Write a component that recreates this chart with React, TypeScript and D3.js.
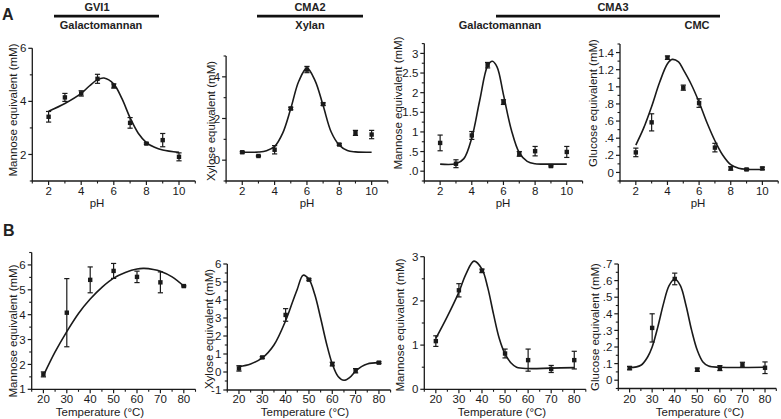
import React from "react";
import * as d3 from "d3";

// ---------- data ----------
const phX = [2, 3, 4, 5, 6, 7, 8, 9, 10];
const tempX = [20, 30, 40, 50, 60, 70, 80];

const phTicks = [2, 4, 6, 8, 10];
const phMinor = [1, 3, 5, 7, 9, 11];
const tempTicks = [20, 30, 40, 50, 60, 70, 80];
const tempMinor = [15, 25, 35, 45, 55, 65, 75, 85];

// A1 GVI1 galactomannan vs pH
const gvi1PhY = [3.42, 4.15, 4.3, 4.85, 4.58, 3.19, 2.41, 2.54, 1.91];
const gvi1PhErr = [0.2, 0.15, 0.1, 0.17, 0.08, 0.2, 0.03, 0.25, 0.15];
const gvi1PhFitX = [2, 3, 4, 4.5, 5, 5.4, 6, 6.5, 7, 7.5, 8, 8.5, 9, 10];
const gvi1PhFitY = [3.63, 3.92, 4.3, 4.58, 4.82, 4.88, 4.65, 4.1, 3.38, 2.8, 2.45, 2.27, 2.17, 2.08];
const gvi1PhYTicks = [2, 4, 6];
const gvi1PhYLabels = ["2", "4", "6"];
const gvi1PhYMinor = [1, 3, 5];

// A2 CMA2 xylan vs pH
const cma2PhY = [0.38, 0.2, 0.5, 2.48, 4.35, 2.69, 0.75, 1.31, 1.23];
const cma2PhErr = [0.04, 0.03, 0.2, 0.06, 0.15, 0.06, 0.04, 0.12, 0.2];
const cma2PhFitX = [2, 3, 3.5, 4, 4.5, 5, 5.5, 6, 6.5, 7, 7.5, 8, 8.5, 9, 10];
const cma2PhFitY = [0.38, 0.39, 0.45, 0.66, 1.3, 2.48, 3.8, 4.42, 3.82, 2.62, 1.35, 0.72, 0.46, 0.4, 0.38];
const cma2PhYTicks = [0, 2, 4];
const cma2PhYLabels = ["0", "2", "4"];
const cma2PhYMinor = [-1, 1, 3, 5];

// A3 CMA3 galactomannan vs pH
const cma3GalPhY = [0.72, 0.19, 0.91, 2.7, 1.76, 0.44, 0.51, 0.13, 0.49];
const cma3GalPhErr = [0.2, 0.1, 0.1, 0.07, 0.06, 0.06, 0.12, 0.02, 0.14];
const cma3GalPhFitX = [2, 3, 3.5, 4, 4.5, 5, 5.3, 5.6, 6, 6.5, 7, 7.5, 8, 9, 10];
const cma3GalPhFitY = [0.18, 0.19, 0.32, 0.85, 1.8, 2.68, 2.8, 2.65, 1.95, 1.05, 0.47, 0.25, 0.19, 0.18, 0.18];
const cma3GalPhYTicks = [0, 0.5, 1, 1.5, 2, 2.5, 3];
const cma3GalPhYLabels = [".0", ".5", "1", "1.5", "2", "2.5", "3"];
const cma3GalPhYMinor = [-0.25, 0.25, 0.75, 1.25, 1.75, 2.25, 2.75, 3.25];

// A4 CMA3 CMC vs pH
const cma3CmcPhY = [0.234, 0.585, 1.34, 0.99, 0.81, 0.29, 0.047, 0.035, 0.047];
const cma3CmcPhErr = [0.05, 0.1, 0.02, 0.03, 0.05, 0.05, 0.02, 0.01, 0.015];
const cma3CmcPhFitX = [2, 2.5, 3, 3.5, 4, 4.3, 4.7, 5, 5.5, 6, 6.5, 7, 7.5, 8, 8.5, 9, 10];
const cma3CmcPhFitY = [0.32, 0.52, 0.77, 1.05, 1.27, 1.32, 1.29, 1.2, 1.03, 0.82, 0.58, 0.37, 0.2, 0.09, 0.05, 0.037, 0.035];
const cma3CmcPhYTicks = [0, 0.2, 0.4, 0.6, 0.8, 1, 1.2, 1.4];
const cma3CmcPhYLabels = ["0", ".2", ".4", ".6", ".8", "1", "1.2", "1.4"];
const cma3CmcPhYMinor = [-0.1, 0.1, 0.3, 0.5, 0.7, 0.9, 1.1, 1.3, 1.5];

// B1 GVI1 galactomannan vs temperature
const gvi1TY = [1.6, 4.08, 5.4, 5.76, 5.52, 5.3, 5.15];
const gvi1TErr = [0.1, 1.37, 0.52, 0.3, 0.23, 0.42, 0.03];
const gvi1TFitX = [20, 25, 30, 35, 40, 45, 50, 55, 60, 63, 67, 70, 75, 80];
const gvi1TFitY = [1.55, 2.5, 3.32, 4.05, 4.63, 5.1, 5.47, 5.7, 5.84, 5.86, 5.82, 5.75, 5.52, 5.15];
const gvi1TYTicks = [1, 2, 3, 4, 5, 6];
const gvi1TYLabels = ["1", "2", "3", "4", "5", "6"];
const gvi1TYMinor = [1.5, 2.5, 3.5, 4.5, 5.5, 6.5];

// B2 CMA2 xylan vs temperature
const cma2TY = [0.2, 0.81, 3.17, 5.13, 0.44, 0.07, 0.52];
const cma2TErr = [0.15, 0.05, 0.35, 0.05, 0.1, 0.12, 0.05];
const cma2TFitX = [20, 25, 30, 35, 40, 43, 45, 47.5, 50, 52.5, 55, 57.5, 60, 62.5, 65, 67.5, 70, 72.5, 75, 80];
const cma2TFitY = [0.3, 0.45, 0.78, 1.5, 2.85, 3.9, 4.6, 5.38, 5.15, 4.3, 3.0, 1.6, 0.45, -0.25, -0.46, -0.3, 0.05, 0.3, 0.45, 0.52];
const cma2TYTicks = [-1, 0, 1, 2, 3, 4, 5, 6];
const cma2TYLabels = ["-1", "0", "1", "2", "3", "4", "5", "6"];
const cma2TYMinor = [-0.5, 0.5, 1.5, 2.5, 3.5, 4.5, 5.5];

// B3 CMA3 galactomannan vs temperature
const cma3GalTY = [1.09, 2.24, 2.68, 0.81, 0.66, 0.46, 0.66];
const cma3GalTErr = [0.12, 0.15, 0.04, 0.1, 0.25, 0.08, 0.2];
const cma3GalTFitX = [20, 25, 30, 33, 36.5, 40, 42.5, 45, 47.5, 50, 52.5, 55, 60, 70, 80];
const cma3GalTFitY = [1.15, 1.65, 2.2, 2.6, 2.9, 2.72, 2.3, 1.7, 1.15, 0.8, 0.6, 0.5, 0.47, 0.48, 0.49];
const cma3GalTYTicks = [0, 1, 2, 3];
const cma3GalTYLabels = ["0", "1", "2", "3"];
const cma3GalTYMinor = [0.5, 1.5, 2.5];

// B4 CMA3 CMC vs temperature
const cma3CmcTY = [0.073, 0.315, 0.61, 0.063, 0.073, 0.093, 0.075];
const cma3CmcTErr = [0.01, 0.085, 0.035, 0.01, 0.015, 0.015, 0.035];
const cma3CmcTFitX = [20, 25, 28, 30, 32.5, 35, 37.5, 40, 42.5, 45, 47.5, 50, 52.5, 55, 60, 80];
const cma3CmcTFitY = [0.075, 0.09, 0.14, 0.2, 0.32, 0.46, 0.57, 0.61, 0.57, 0.45, 0.3, 0.18, 0.11, 0.085, 0.078, 0.078];
const cma3CmcTYTicks = [0, 0.1, 0.2, 0.3, 0.4, 0.5, 0.6, 0.7];
const cma3CmcTYLabels = ["0", ".1", ".2", ".3", ".4", ".5", ".6", ".7"];
const cma3CmcTYMinor = [-0.05, 0.05, 0.15, 0.25, 0.35, 0.45, 0.55, 0.65];

// ---------- layout ----------
const FONT = "'Liberation Sans', Arial, Helvetica, sans-serif";
const INK = "#1a1a1a";

type PanelCfg = {
  xs: number[]; ys: number[]; err: number[]; fitX: number[]; fitY: number[];
  xDomain: [number, number]; xRange: [number, number];
  yDomain: [number, number]; yRange: [number, number];
  xTicks: number[]; xMinor: number[]; yTicks: number[]; yLabels: string[]; yMinor: number[];
  xTitle: string; xTitleX: number; xTitleY: number; xTickY: number;
  yTitle: string; yTitleX: number; yTitleY: number;
};

const panels: PanelCfg[] = [
  { xs: phX, ys: gvi1PhY, err: gvi1PhErr, fitX: gvi1PhFitX, fitY: gvi1PhFitY,
    xDomain: [1, 11], xRange: [32.3, 195.3], yDomain: [1, 6], yRange: [181, 48.3],
    xTicks: phTicks, xMinor: phMinor, yTicks: gvi1PhYTicks, yLabels: gvi1PhYLabels, yMinor: gvi1PhYMinor,
    xTitle: "pH", xTitleX: 97, xTitleY: 207, xTickY: 195,
    yTitle: "Mannose equivalent (mM)", yTitleX: 17, yTitleY: 110 },
  { xs: phX, ys: cma2PhY, err: cma2PhErr, fitX: cma2PhFitX, fitY: cma2PhFitY,
    xDomain: [1, 11], xRange: [226.1, 387.8], yDomain: [-1, 5], yRange: [181, 56],
    xTicks: phTicks, xMinor: phMinor, yTicks: cma2PhYTicks, yLabels: cma2PhYLabels, yMinor: cma2PhYMinor,
    xTitle: "pH", xTitleX: 307, xTitleY: 207, xTickY: 195,
    yTitle: "Xylose equivalent (mM)", yTitleX: 214.5, yTitleY: 121 },
  { xs: phX, ys: cma3GalPhY, err: cma3GalPhErr, fitX: cma3GalPhFitX, fitY: cma3GalPhFitY,
    xDomain: [1, 11], xRange: [424.3, 582.6], yDomain: [-0.25, 3.25], yRange: [181, 43.6],
    xTicks: phTicks, xMinor: phMinor, yTicks: cma3GalPhYTicks, yLabels: cma3GalPhYLabels, yMinor: cma3GalPhYMinor,
    xTitle: "pH", xTitleX: 503, xTitleY: 207, xTickY: 195,
    yTitle: "Mannose equivalent (mM)", yTitleX: 402, yTitleY: 103 },
  { xs: phX, ys: cma3CmcPhY, err: cma3CmcPhErr, fitX: cma3CmcPhFitX, fitY: cma3CmcPhFitY,
    xDomain: [1, 11], xRange: [620, 778.2], yDomain: [-0.1, 1.5], yRange: [181, 44],
    xTicks: phTicks, xMinor: phMinor, yTicks: cma3CmcPhYTicks, yLabels: cma3CmcPhYLabels, yMinor: cma3CmcPhYMinor,
    xTitle: "pH", xTitleX: 698, xTitleY: 207, xTickY: 195,
    yTitle: "Glucose equivalent (mM)", yTitleX: 597, yTitleY: 103 },
  { xs: tempX, ys: gvi1TY, err: gvi1TErr, fitX: gvi1TFitX, fitY: gvi1TFitY,
    xDomain: [15, 85], xRange: [31.7, 195.5], yDomain: [1, 6.5], yRange: [389.3, 252.5],
    xTicks: tempTicks, xMinor: tempMinor, yTicks: gvi1TYTicks, yLabels: gvi1TYLabels, yMinor: gvi1TYMinor,
    xTitle: "Temperature (°C)", xTitleX: 100, xTitleY: 416, xTickY: 403,
    yTitle: "Mannose equivalent (mM)", yTitleX: 17, yTitleY: 331 },
  { xs: tempX, ys: cma2TY, err: cma2TErr, fitX: cma2TFitX, fitY: cma2TFitY,
    xDomain: [15, 85], xRange: [227.3, 390.6], yDomain: [-1, 6], yRange: [390, 264],
    xTicks: tempTicks, xMinor: tempMinor, yTicks: cma2TYTicks, yLabels: cma2TYLabels, yMinor: cma2TYMinor,
    xTitle: "Temperature (°C)", xTitleX: 305, xTitleY: 416, xTickY: 403,
    yTitle: "Xylose equivalent (mM)", yTitleX: 213, yTitleY: 329 },
  { xs: tempX, ys: cma3GalTY, err: cma3GalTErr, fitX: cma3GalTFitX, fitY: cma3GalTFitY,
    xDomain: [15, 85], xRange: [424.3, 585.8], yDomain: [0, 3], yRange: [389.3, 256.7],
    xTicks: tempTicks, xMinor: tempMinor, yTicks: cma3GalTYTicks, yLabels: cma3GalTYLabels, yMinor: cma3GalTYMinor,
    xTitle: "Temperature (°C)", xTitleX: 502, xTitleY: 416, xTickY: 403,
    yTitle: "Mannose equivalent (mM)", yTitleX: 404, yTitleY: 325 },
  { xs: tempX, ys: cma3CmcTY, err: cma3CmcTErr, fitX: cma3CmcTFitX, fitY: cma3CmcTFitY,
    xDomain: [15, 85], xRange: [618.3, 776.3], yDomain: [-0.05, 0.7], yRange: [388.5, 264],
    xTicks: tempTicks, xMinor: tempMinor, yTicks: cma3CmcTYTicks, yLabels: cma3CmcTYLabels, yMinor: cma3CmcTYMinor,
    xTitle: "Temperature (°C)", xTitleX: 700, xTitleY: 416, xTickY: 403,
    yTitle: "Glucose equivalent (mM)", yTitleX: 599, yTitleY: 327 },
];

function Panel({ c }: { c: PanelCfg }) {
  const x = d3.scaleLinear().domain(c.xDomain).range(c.xRange);
  const y = d3.scaleLinear().domain(c.yDomain).range(c.yRange);
  const line = d3.line<number>()
    .x((_, i) => x(c.fitX[i]))
    .y((d) => y(d))
    .curve(d3.curveCatmullRom.alpha(0.5));
  const x0 = c.xRange[0];
  const yB = c.yRange[0];
  const yT = c.yRange[1];
  const cap = 2.6;
  const sq = 4.4;
  return (
    <g>
      <line x1={x0} x2={x0} y1={yB} y2={yT} stroke={INK} strokeWidth={1.3} />
      <line x1={x0 - 0.6} x2={c.xRange[1]} y1={yB} y2={yB} stroke={INK} strokeWidth={1.3} />
      {c.xTicks.map((t) => (
        <g key={"xt" + t}>
          <line x1={x(t)} x2={x(t)} y1={yB} y2={yB + 4} stroke={INK} strokeWidth={1.2} />
          <text x={x(t)} y={c.xTickY} textAnchor="middle" fontSize={11.5} fill={INK} fontFamily={FONT}>{t}</text>
        </g>
      ))}
      {c.xMinor.map((t) => (
        <line key={"xm" + t} x1={x(t)} x2={x(t)} y1={yB} y2={yB + 2.5} stroke={INK} strokeWidth={1.1} />
      ))}
      {c.yTicks.map((t, i) => (
        <g key={"yt" + t}>
          <line x1={x0} x2={x0 - 4} y1={y(t)} y2={y(t)} stroke={INK} strokeWidth={1.2} />
          <text x={x0 - 6} y={y(t) + 4.1} textAnchor="end" fontSize={11.5} fill={INK} fontFamily={FONT}>{c.yLabels[i]}</text>
        </g>
      ))}
      {c.yMinor.map((t) => (
        <line key={"ym" + t} x1={x0} x2={x0 - 2.5} y1={y(t)} y2={y(t)} stroke={INK} strokeWidth={1.1} />
      ))}
      <text x={c.xTitleX} y={c.xTitleY} textAnchor="middle" fontSize={11.5} fill={INK} fontFamily={FONT}>{c.xTitle}</text>
      <text transform={`translate(${c.yTitleX},${c.yTitleY}) rotate(-90)`} textAnchor="middle" fontSize={11.5} fill={INK} fontFamily={FONT}>{c.yTitle}</text>
      <path d={line(c.fitY) || ""} fill="none" stroke={INK} strokeWidth={1.6} />
      {c.xs.map((v, i) => {
        const cx = x(v);
        const cy = y(c.ys[i]);
        const yl = y(c.ys[i] - c.err[i]);
        const yh = y(c.ys[i] + c.err[i]);
        return (
          <g key={"p" + i}>
            <line x1={cx} x2={cx} y1={yl} y2={yh} stroke={INK} strokeWidth={1.2} />
            <line x1={cx - cap} x2={cx + cap} y1={yl} y2={yl} stroke={INK} strokeWidth={1.2} />
            <line x1={cx - cap} x2={cx + cap} y1={yh} y2={yh} stroke={INK} strokeWidth={1.2} />
            <rect x={cx - sq / 2} y={cy - sq / 2} width={sq} height={sq} fill={INK} />
          </g>
        );
      })}
    </g>
  );
}

export default function App() {
  const bold = { fontFamily: FONT, fontWeight: 700, fill: "#222" } as const;
  return (
    <svg width={781} height={419} style={{ position: "absolute", left: 0, top: 0, background: "#fff" }}>
      <rect width={781} height={419} fill="#fff" />
      <text x={2} y={20} fontSize={16} {...bold}>A</text>
      <text x={3} y={236} fontSize={16} {...bold}>B</text>
      {/* headers */}
      <text x={97} y={11} fontSize={11} textAnchor="middle" {...bold}>GVI1</text>
      <line x1={54} x2={159} y1={16.2} y2={16.2} stroke="#111" strokeWidth={2.8} />
      <text x={101} y={28.5} fontSize={11} textAnchor="middle" {...bold}>Galactomannan</text>
      <text x={310} y={11} fontSize={11} textAnchor="middle" {...bold}>CMA2</text>
      <line x1={257} x2={363} y1={16.2} y2={16.2} stroke="#111" strokeWidth={2.8} />
      <text x={310} y={28.5} fontSize={11} textAnchor="middle" {...bold}>Xylan</text>
      <text x={613} y={11} fontSize={11} textAnchor="middle" {...bold}>CMA3</text>
      <line x1={496} x2={720} y1={16.2} y2={16.2} stroke="#111" strokeWidth={2.8} />
      <text x={500} y={28.5} fontSize={11} textAnchor="middle" {...bold}>Galactomannan</text>
      <text x={697} y={28.5} fontSize={11} textAnchor="middle" {...bold}>CMC</text>
      {panels.map((c, i) => <Panel key={i} c={c} />)}
    </svg>
  );
}
